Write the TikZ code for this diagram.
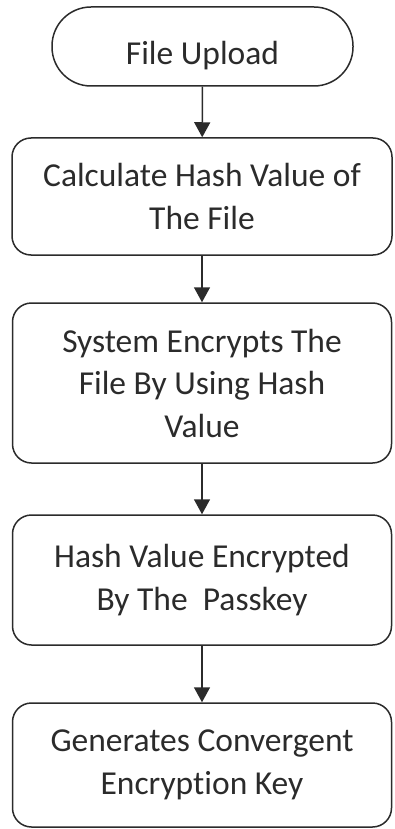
\documentclass[tikz,border=0pt]{standalone}
\usepackage{fontspec}
\setmainfont{Carlito}[Ligatures=NoCommon]
\usetikzlibrary{arrows.meta}
\definecolor{ink}{HTML}{2B2B2B}
\begin{document}
\begin{tikzpicture}[x=1pt,y=-1pt,
  box/.style={draw=ink, line width=1.5pt, rounded corners=19pt, align=center,
    text=ink, inner sep=0pt, font=\fontsize{33.5}{42.5}\selectfont},
  terminal/.style={box, rounded corners=39pt},
  flow/.style={draw=ink, line width=1.5pt, -{Triangle[width=16pt,length=15pt]}}]
\useasboundingbox (0,0) rectangle (394,829);
\node[terminal, minimum width=301pt, minimum height=79pt] (upload) at (202.5,46.5)
  {\raisebox{-18pt}[0pt][0pt]{File Upload}};
\node[box, minimum width=380pt, minimum height=117pt] (hash) at (202,196.5)
  {Calculate Hash Value of\\The File};
\node[box, minimum width=379pt, minimum height=160pt] (encfile) at (202,383)
  {System Encrypts The\\File By Using Hash\\Value};
\node[box, minimum width=379pt, minimum height=130pt] (enchash) at (202,580)
  {Hash Value Encrypted\\By The~~Passkey};
\node[box, minimum width=379pt, minimum height=124pt] (cekey) at (202,765)
  {Generates Convergent\\Encryption Key};
\draw[flow] (upload) -- (hash);
\draw[flow] (hash) -- (encfile);
\draw[flow] (encfile) -- (enchash);
\draw[flow] (enchash) -- (cekey);
\end{tikzpicture}
\end{document}
